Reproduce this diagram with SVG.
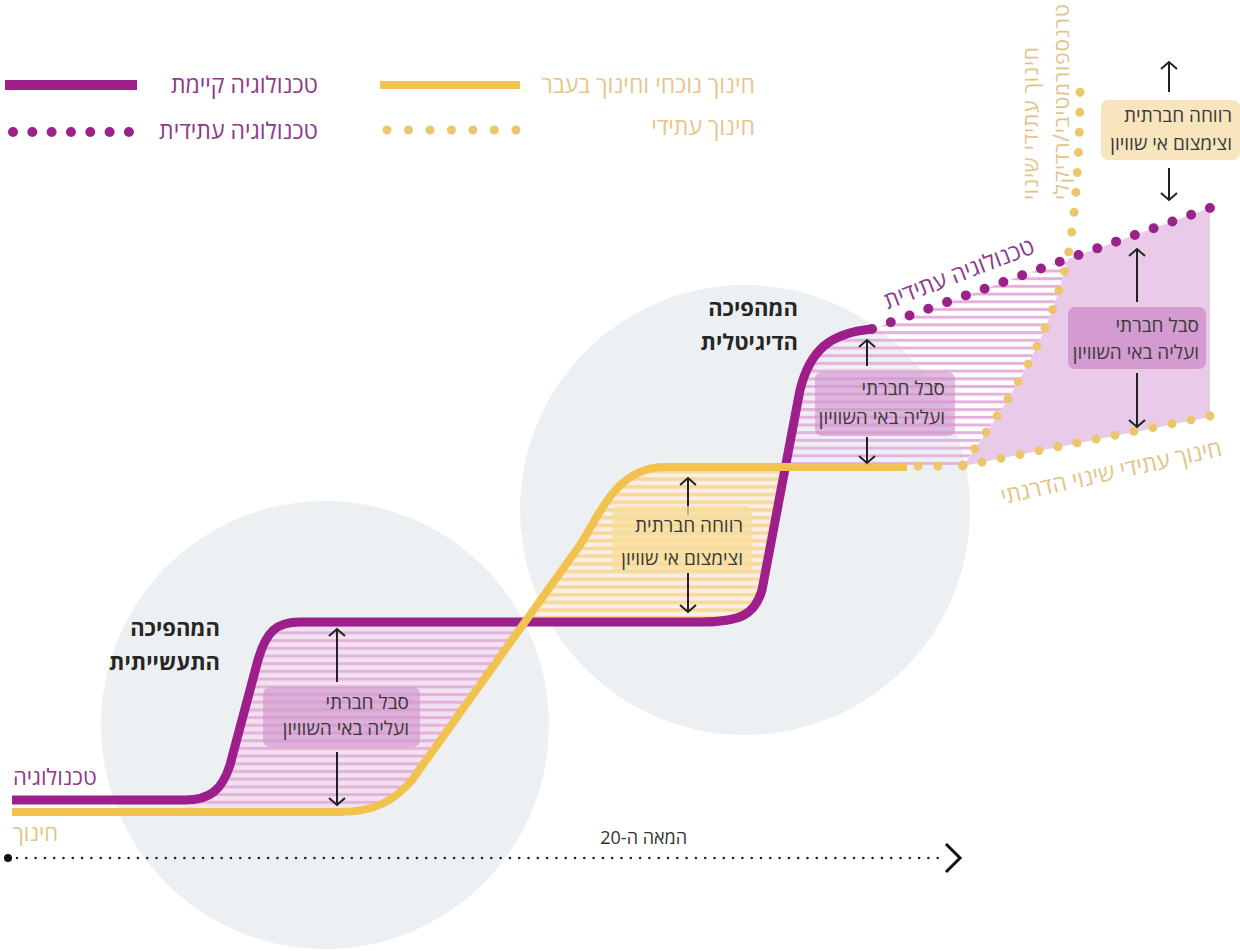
<svg xmlns="http://www.w3.org/2000/svg" width="1240" height="951" viewBox="0 0 1240 951">
<style>
text{font-family:"Open Sans","Liberation Sans","DejaVu Sans",sans-serif}
.box{fill:#3a3a3a;font-size:19px;text-anchor:end}
.ttl{fill:#262626;font-size:22px;font-weight:bold;text-anchor:end}
.lgp{fill:#8e3a89;font-size:23px;text-anchor:end}
.lgy{fill:#e6c68b;font-size:23px;text-anchor:end}
.purple{fill:none;stroke:#9e1f8b;stroke-width:9}
.yellow{fill:none;stroke:#f2c24f;stroke-width:8}
.pdots{fill:none;stroke:#9b2289;stroke-width:10;stroke-linecap:round}
.ydots{fill:none;stroke:#ecc66a;stroke-width:9;stroke-linecap:round}
.arr{fill:none;stroke:#222;stroke-width:2;marker-end:url(#ah)}
</style>
<defs>
<marker id="ah" markerWidth="20" markerHeight="20" refX="10" refY="10" orient="auto" markerUnits="userSpaceOnUse">
<path d="M3,2 L10,10 L3,18" fill="none" stroke="#222" stroke-width="2"/>
</marker>
<pattern id="hp" width="10" height="7.7" patternUnits="userSpaceOnUse">
<rect width="10" height="3" fill="#e5b2de"/>
</pattern>
<pattern id="hy" width="10" height="7.7" patternUnits="userSpaceOnUse">
<rect width="10" height="7.7" fill="#fbeee6"/>
<rect width="10" height="3.5" fill="#f6d89a"/>
</pattern>
</defs>
<rect width="1240" height="951" fill="#ffffff"/>

<g id="circles">
<circle cx="325" cy="725" r="224" fill="#edf0f3"/>
<circle cx="745" cy="510" r="225" fill="#edf0f3"/>
</g>

<g id="regions">
<path d="M185,800 C210,800 222,790 230,765 L258,660 C266,632 276,622 300,622 L525,622 L412,780 C395,800 375,812 340,812 L185,812 Z" fill="#f1e2ef"/>
<path d="M185,800 C210,800 222,790 230,765 L258,660 C266,632 276,622 300,622 L525,622 L412,780 C395,800 375,812 340,812 L185,812 Z" fill="url(#hp)"/>
<path d="M525,622 L580,545 C598,518 615,467 665,467 L785,467 L762,590 C755,615 740,622 700,622 Z" fill="url(#hy)"/>
<path d="M785,467 L800,390 C810,350 830,333 870,330 L1068,259 L1065,270 C1045,345 1010,400 963,465 L785,467 Z" fill="url(#hp)"/>
<path d="M1068,259 L1210,208 L1210,417 L963,466 C1010,400 1045,345 1065,270 Z" fill="#e9cbe9"/>
</g>

<g id="connectors">
<path class="purple" d="M12,800 H185 C210,800 222,790 230,765 L258,660 C266,632 276,622 300,622 H700 C740,622 755,615 762,590 L800,390 C810,350 830,333 872,329"/>
<path class="yellow" d="M12,812 H340 C375,812 395,800 412,780 L580,545 C598,518 615,467 665,467 H907"/>
<path class="pdots" d="M872,329 L1210,208" style="stroke-dasharray:0 19.94"/>
<path class="ydots" d="M918,466 L958,466" style="stroke-dasharray:0 20"/>
<path class="ydots" d="M963,465 C1010,400 1045,345 1065,270 C1075,230 1080,150 1080,88" style="stroke-dasharray:0 20"/>
<path class="ydots" d="M963,466 L1210,416" style="stroke-dasharray:0 19.38"/>
<path class="arr" d="M337,682 V629"/>
<path class="arr" d="M337,752 V805"/>
<path class="arr" d="M688,515 V478"/>
<path class="arr" d="M688,573 V612"/>
<path class="arr" d="M867,366 V340"/>
<path class="arr" d="M867,437 V463"/>
<path class="arr" d="M1137,302 V249"/>
<path class="arr" d="M1137,373 V427"/>
<path class="arr" d="M1169,92 V62"/>
<path class="arr" d="M1169,168 V200"/>
</g>

<g id="legend">
<rect x="5" y="80" width="132" height="10" fill="#9e1f8b"/>
<text class="lgp" x="318" y="93">טכנולוגיה קיימת</text>
<path class="pdots" d="M13,132 L129,132" style="stroke-dasharray:0 19.32"/>
<text class="lgp" x="318" y="139">טכנולוגיה עתידית</text>
<rect x="380" y="81" width="140" height="8" fill="#f2c24f"/>
<text class="lgy" x="755" y="93">חינוך נוכחי וחינוך בעבר</text>
<path class="ydots" d="M387,130 L516,130" style="stroke-dasharray:0 21.48"/>
<text class="lgy" x="755" y="135">חינוך עתידי</text>
</g>

<g id="box1">
<rect x="263" y="687" width="157" height="60" rx="7" fill="#cf8fca" fill-opacity="0.6"/>
<text class="box" x="409" y="709">סבל חברתי</text>
<text class="box" x="409" y="735">ועליה באי השוויון</text>
</g>
<g id="box2">
<rect x="612" y="506" width="140" height="66" rx="7" fill="#f8dc98" fill-opacity="0.75"/>
<text class="box" x="743" y="532">רווחה חברתית</text>
<text class="box" x="743" y="565">וצימצום אי שוויון</text>
</g>
<g id="box3">
<rect x="815" y="372" width="140" height="64" rx="7" fill="#cf8fca" fill-opacity="0.6"/>
<text class="box" x="945" y="395">סבל חברתי</text>
<text class="box" x="945" y="424">ועליה באי השוויון</text>
</g>
<g id="box4">
<rect x="1068" y="307" width="138" height="62" rx="7" fill="#d49bd1"/>
<text class="box" x="1199" y="332">סבל חברתי</text>
<text class="box" x="1199" y="359">ועליה באי השוויון</text>
</g>
<g id="box5">
<rect x="1101" y="100" width="139" height="60" rx="7" fill="#f8e5bd"/>
<text class="box" x="1232" y="122">רווחה חברתית</text>
<text class="box" x="1232" y="150">וצימצום אי שוויון</text>
</g>

<g id="titles">
<text class="ttl" x="220" y="636">המהפיכה</text>
<text class="ttl" x="220" y="670">התעשייתית</text>
<text class="ttl" x="798" y="316">המהפיכה</text>
<text class="ttl" x="798" y="350">הדיגיטלית</text>
</g>

<g id="labels">
<text x="13" y="785" font-size="22" fill="#8e3a8c">טכנולוגיה</text>
<text x="13" y="841" font-size="22" fill="#e2c585">חינוך</text>
<text x="0" y="0" font-size="23" fill="#8e3a8c" text-anchor="middle" transform="translate(962,281) rotate(-21)">טכנולוגיה עתידית</text>
<text x="0" y="0" font-size="23" fill="#e2c486" text-anchor="middle" transform="translate(1113,480) rotate(-12.5)">חינוך עתידי שינוי הדרגתי</text>
<text x="0" y="0" font-size="21" fill="#e2c486" textLength="153" lengthAdjust="spacing" transform="translate(1038,200) rotate(-90)">חינוך עתידי שינוי</text>
<text x="0" y="0" font-size="21" fill="#e2c486" textLength="196" lengthAdjust="spacing" transform="translate(1069,200) rotate(-90)">טרנספורמטיבי/רדיקלי</text>
</g>

<g id="timeline">
<circle cx="8" cy="858" r="4" fill="#111"/>
<path d="M17,858 H945" fill="none" stroke="#222" stroke-width="2.6" stroke-linecap="round" stroke-dasharray="0 9.3"/>
<path d="M946,844 L960,858 L946,872" fill="none" stroke="#111" stroke-width="3"/>
<text x="687" y="844" font-size="18" fill="#333" text-anchor="end">המאה ה-20</text>
</g>
</svg>
